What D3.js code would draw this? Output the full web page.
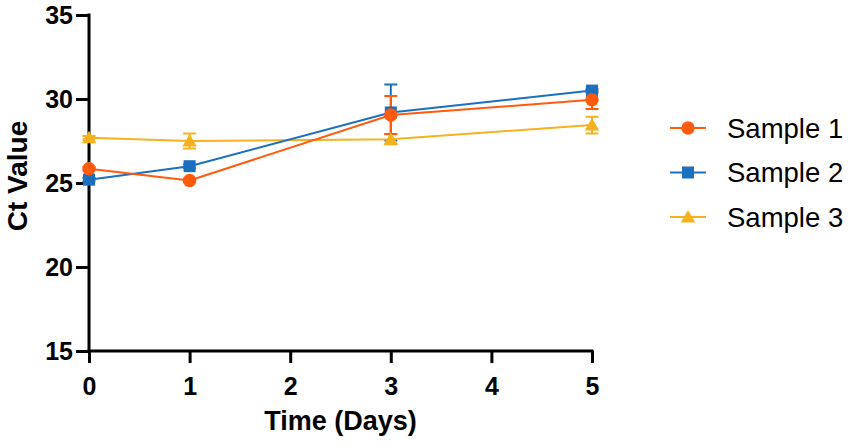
<!DOCTYPE html>
<html>
<head>
<meta charset="utf-8">
<script src="https://cdn.jsdelivr.net/npm/d3@7"></script>
<style>
html,body{margin:0;padding:0;background:#fff;}
svg{display:block;font-family:"Liberation Sans",Arial,sans-serif;}
</style>
</head>
<body>
<svg id="chart" width="850" height="446"></svg>
<script>
const days = [0, 1, 3, 5];
const seriesNames = ["Sample 1", "Sample 2", "Sample 3"];
const sample1 = [25.85, 25.15, 29.05, 29.95];
const sample1Err = [0.1, 0.1, 1.13, 0.55];
const sample2 = [25.2, 26.0, 29.2, 30.5];
const sample2Err = [0.1, 0.1, 1.67, 0.1];
const sample3 = [27.7, 27.5, 27.6, 28.45];
const sample3Err = [0.1, 0.45, 0.3, 0.5];
const xTicks = [0, 1, 2, 3, 4, 5];
const yTicks = [15, 20, 25, 30, 35];
const colors = ["#FF5A0D", "#1A6FBF", "#F5B11E"];
const shapes = ["circle", "square", "triangle"];

const values = [sample1, sample2, sample3];
const errs = [sample1Err, sample2Err, sample3Err];
const series = seriesNames.map((n, i) => ({
  name: n, color: colors[i], shape: shapes[i],
  pts: days.map((d, j) => ({x: d, y: values[i][j], e: errs[i][j]}))
}));

const svg = d3.select("#chart");
const x = d3.scaleLinear().domain([0, 5]).range([89, 592]);
const y = d3.scaleLinear().domain([15, 35]).range([351, 15]);

function markerPath(shape) {
  if (shape === "circle") return "M-6.7,0a6.7,6.7 0 1,0 13.4,0a6.7,6.7 0 1,0 -13.4,0Z";
  if (shape === "square") return "M-6,-6H6V6H-6Z";
  return "M0,-7L7.3,5.5L-7.3,5.5Z";
}

// axes
const yAxis = d3.axisLeft(y).tickValues(yTicks).tickFormat(d3.format("d")).tickSize(13).tickPadding(4);
const gy = svg.append("g").attr("transform", `translate(${x(0)},0)`).call(yAxis);
const xAxis = d3.axisBottom(x).tickValues(xTicks).tickFormat(d3.format("d")).tickSize(12).tickPadding(14);
const gx = svg.append("g").attr("transform", `translate(0,${y(15)})`).call(xAxis);
[gx, gy].forEach(g => {
  g.select(".domain").attr("stroke", "#000").attr("stroke-width", 3).attr("stroke-linecap", "square");
  g.selectAll(".tick line").attr("stroke", "#000").attr("stroke-width", 3);
  g.selectAll(".tick text").attr("fill", "#000").attr("font-size", 25).attr("font-weight", "bold")
    .attr("font-family", "'Liberation Sans', Arial, sans-serif");
});
gy.select(".domain").attr("d", `M0,${y(15)}V${y(35)}`);
gx.select(".domain").attr("d", `M${x(0)},0H${x(5)}`);
gy.selectAll(".tick text").attr("x", -16);

// axis titles
svg.append("text").attr("x", (x(0) + x(5)) / 2).attr("y", 430).attr("text-anchor", "middle")
  .attr("font-size", 27).attr("font-weight", "bold").text("Time (Days)");
svg.append("text").attr("transform", `translate(27,176) rotate(-90)`)
  .attr("text-anchor", "middle").attr("font-size", 28).attr("font-weight", "bold").text("Ct Value");

const draw = series.slice().reverse();
// error bars
draw.forEach(s => {
  const g = svg.append("g").attr("stroke", s.color).attr("stroke-width", 2).attr("fill", "none");
  s.pts.forEach(p => {
    const cx = x(p.x), t = y(p.y + p.e), b = y(p.y - p.e);
    g.append("path").attr("d", `M${cx},${t}V${b}M${cx - 6.5},${t}H${cx + 6.5}M${cx - 6.5},${b}H${cx + 6.5}`);
  });
});
// lines
const line = d3.line().x(p => x(p.x)).y(p => y(p.y));
draw.forEach(s => {
  svg.append("path").datum(s.pts).attr("d", line).attr("fill", "none")
    .attr("stroke", s.color).attr("stroke-width", 2);
});
// markers
draw.forEach(s => {
  svg.append("g").selectAll("path").data(s.pts).join("path")
    .attr("transform", p => `translate(${x(p.x)},${y(p.y)})`)
    .attr("d", markerPath(s.shape)).attr("fill", s.color);
});

// legend
const legendY = [128, 172.5, 217];
series.forEach((s, i) => {
  const g = svg.append("g").attr("transform", `translate(0,${legendY[i]})`);
  g.append("line").attr("x1", 670).attr("x2", 706).attr("y1", 0).attr("y2", 0)
    .attr("stroke", s.color).attr("stroke-width", 2);
  g.append("path").attr("transform", "translate(688,0)").attr("d", markerPath(s.shape)).attr("fill", s.color);
  g.append("text").attr("x", 727).attr("y", 9.5).attr("font-size", 27.5).attr("fill", "#000").text(s.name);
});
</script>
</body>
</html>
